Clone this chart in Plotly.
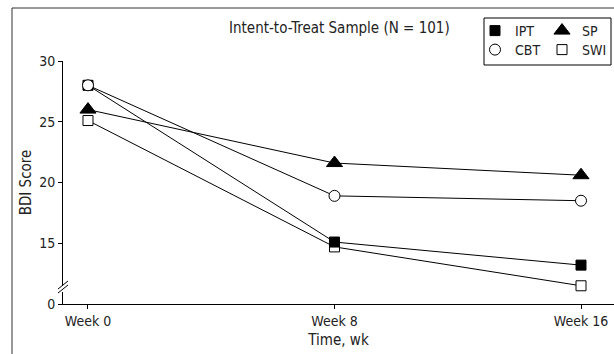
import plotly.graph_objects as go

# ---- data ----
weeks = [0, 8, 16]
week_labels = ["Week 0", "Week 8", "Week 16"]
ipt = [28.0, 15.1, 13.2]
sp = [26.0, 21.6, 20.6]
cbt = [28.0, 18.9, 18.5]
swi = [25.1, 14.7, 11.5]
y_tick_vals = [10, 15, 20, 25, 30]
y_tick_text = ["0", "15", "20", "25", "30"]

FONT = "DejaVu Sans Condensed, Liberation Sans Narrow, sans-serif"
TXT = "#222222"

W, H = 614, 354
ML, MR, MT, MB = 63, 0, 61, 50
PW, PH = W - ML - MR, H - MT - MB


def px(x):
    return (x - ML) / PW


def py(y):
    return (H - MB - y) / PH


fig = go.Figure()

series = [
    ("SWI", swi, "square", "white", 10),
    ("IPT", ipt, "square", "black", 10),
    ("SP", sp, "triangle-up", "black", 14),
    ("CBT", cbt, "circle", "white", 11),
]
for name, vals, sym, fill, size in series:
    fig.add_trace(go.Scatter(
        x=weeks, y=vals, mode="lines+markers", name=name,
        line=dict(color="black", width=1),
        marker=dict(symbol=sym, size=size, color=fill,
                    line=dict(color="black", width=1)),
        showlegend=False, cliponaxis=False, hoverinfo="skip",
    ))

# legend-only entries (row-major order as in the reference)
for name, sym, fill, size, lg in [
    ("IPT", "square", "black", 10, "legend"),
    ("SP", "triangle-up", "black", 14, "legend"),
    ("CBT", "circle", "white", 11, "legend2"),
    ("SWI", "square", "white", 10, "legend2"),
]:
    fig.add_trace(go.Scatter(
        x=[None], y=[None], mode="markers", name=name, legend=lg,
        marker=dict(symbol=sym, size=size, color=fill,
                    line=dict(color="black", width=1)),
        showlegend=True,
    ))

shapes = [
    # outer frame
    dict(type="line", xref="paper", yref="paper", x0=px(12), x1=px(12),
         y0=-1, y1=py(8), line=dict(color="#333", width=1)),
    dict(type="line", xref="paper", yref="paper", x0=px(12), x1=1.3,
         y0=py(8), y1=py(8), line=dict(color="#333", width=1)),
    # legend box
    dict(type="rect", xref="paper", yref="paper", x0=px(484), x1=px(611),
         y0=py(65), y1=py(18), line=dict(color="black", width=1),
         fillcolor="rgba(0,0,0,0)"),
    # axis break: gap and slashes
    dict(type="rect", xref="paper", yref="paper", x0=px(61), x1=px(65),
         y0=py(292), y1=py(286), line=dict(width=0), fillcolor="white"),
    dict(type="line", xref="paper", yref="paper", x0=px(58), y0=py(293),
         x1=px(68), y1=py(285), line=dict(color="black", width=1)),
    dict(type="line", xref="paper", yref="paper", x0=px(58), y0=py(289),
         x1=px(68), y1=py(281), line=dict(color="black", width=1)),
]

fig.update_layout(
    width=W, height=H, autosize=False,
    margin=dict(l=ML, r=MR, t=MT, b=MB, pad=0, autoexpand=False),
    plot_bgcolor="white", paper_bgcolor="white",
    font=dict(family=FONT, size=14, color=TXT),
    shapes=shapes,
    hovermode=False,
    annotations=[dict(
        text="Intent-to-Treat Sample (N = 101)", xref="paper", yref="paper",
        x=px(339), y=py(28), xanchor="center", yanchor="middle",
        showarrow=False, font=dict(family=FONT, size=15, color=TXT),
    )],
    legend=dict(orientation="h", x=px(475), y=py(31), xanchor="left",
                yanchor="middle", bgcolor="rgba(0,0,0,0)", borderwidth=0,
                entrywidth=22, entrywidthmode="pixels", itemwidth=30,
                font=dict(family=FONT, size=14, color=TXT)),
    legend2=dict(orientation="h", x=px(475), y=py(50), xanchor="left",
                 yanchor="middle", bgcolor="rgba(0,0,0,0)", borderwidth=0,
                 entrywidth=22, entrywidthmode="pixels", itemwidth=30,
                 font=dict(family=FONT, size=14, color=TXT)),
    xaxis=dict(
        range=[-0.811, 17.071], tickvals=weeks, ticktext=week_labels,
        showline=True, linecolor="black", linewidth=1, mirror=False,
        ticks="outside", ticklen=4, tickcolor="black", tickwidth=1,
        showgrid=False, zeroline=False, automargin=False,
        title=dict(text="Time, wk", standoff=6,
                   font=dict(family=FONT, size=15, color=TXT)),
        tickfont=dict(family=FONT, size=14, color=TXT),
    ),
    yaxis=dict(
        range=[10, 30], tickvals=y_tick_vals, ticktext=y_tick_text,
        showline=True, linecolor="black", linewidth=1,
        ticks="outside", ticklen=4, tickcolor="black", tickwidth=1,
        showgrid=False, zeroline=False, automargin=False,
        title=dict(text="BDI Score", standoff=3,
                   font=dict(family=FONT, size=15, color=TXT)),
        tickfont=dict(family=FONT, size=14, color=TXT),
    ),
)

fig.write_html("out.html", config={"displayModeBar": False},
               post_script="document.body.style.margin='0px';")
